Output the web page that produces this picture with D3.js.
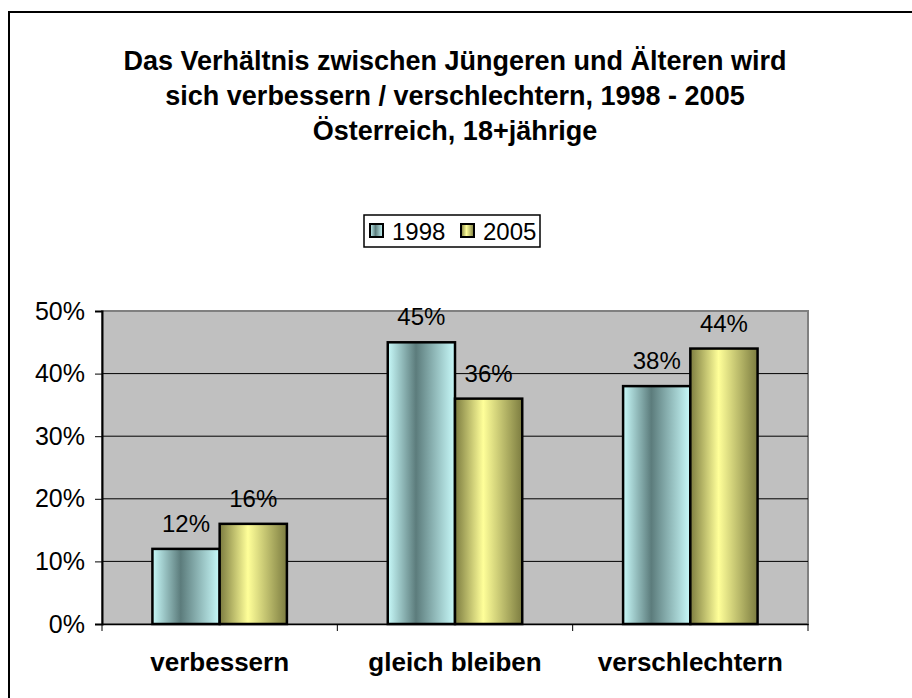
<!DOCTYPE html>
<head>
  <meta charset="utf-8">
  <title>D3 Barchart</title>
  <script src="https://d3js.org/d3.v7.min.js"></script>
  <style>
  body { margin: 0; background: #fff; }
  text { font-family: "Liberation Sans", Arial, sans-serif; fill: #000; }
  </style>
</head>
<body>
<script>
// data
var categories = ["verbessern", "gleich bleiben", "verschlechtern"];
var years = ["1998", "2005"];
var values1998 = [12, 45, 38];
var values2005 = [16, 36, 44];
var yTicks = [0, 10, 20, 30, 40, 50];
var titleLines = ["Das Verhältnis zwischen Jüngeren und Älteren wird",
                  "sich verbessern / verschlechtern, 1998 - 2005",
                  "Österreich, 18+jährige"];

var W = 912, H = 698;
var plot = {left: 102, top: 311, right: 808, bottom: 624};

var svg = d3.select("body").append("svg")
  .attr("width", W).attr("height", H);

// gradients
var defs = svg.append("defs");
var g1 = defs.append("linearGradient").attr("id", "g1998");
g1.append("stop").attr("offset", "0%").attr("stop-color", "#c8fafa");
g1.append("stop").attr("offset", "42%").attr("stop-color", "#5c7c7c");
g1.append("stop").attr("offset", "100%").attr("stop-color", "#c8fafa");
var g2 = defs.append("linearGradient").attr("id", "g2005");
g2.append("stop").attr("offset", "0%").attr("stop-color", "#7c7c40");
g2.append("stop").attr("offset", "42%").attr("stop-color", "#ffff99");
g2.append("stop").attr("offset", "100%").attr("stop-color", "#7c7c40");
var fills = {"1998": "url(#g1998)", "2005": "url(#g2005)"};

// outer frame
svg.append("rect")
  .attr("x", 9).attr("y", 12).attr("width", W).attr("height", H)
  .attr("fill", "none").attr("stroke", "#000").attr("stroke-width", 2);

// title
svg.append("text")
  .attr("text-anchor", "middle")
  .attr("font-size", 27).attr("font-weight", "bold")
  .selectAll("tspan").data(titleLines).enter().append("tspan")
  .attr("x", 455)
  .attr("y", function(d, i) { return 70 + i * 35; })
  .text(function(d) { return d; });

// scales
var x = d3.scaleBand().domain(categories).range([plot.left, plot.right]);
var xs = d3.scaleBand().domain(years).range([0, x.bandwidth()])
  .paddingOuter(0.75).paddingInner(0);
var y = d3.scaleLinear().domain([0, 50]).range([plot.bottom, plot.top]);

// plot background
svg.append("rect")
  .attr("x", plot.left).attr("y", plot.top)
  .attr("width", plot.right - plot.left).attr("height", plot.bottom - plot.top)
  .attr("fill", "#c0c0c0").attr("stroke", "#808080").attr("stroke-width", 2);

// gridlines
svg.selectAll(".grid").data(yTicks.slice(1, -1)).enter().append("line")
  .attr("x1", plot.left).attr("x2", plot.right)
  .attr("y1", function(d) { return y(d); }).attr("y2", function(d) { return y(d); })
  .attr("stroke", "#000").attr("stroke-width", 1);

// y axis
var yAxis = svg.append("g")
  .attr("transform", "translate(" + plot.left + ",0)")
  .call(d3.axisLeft(y).tickValues(yTicks).tickSize(7).tickPadding(10)
    .tickFormat(function(d) { return d + "%"; }));
yAxis.select(".domain").attr("stroke", "#000").attr("stroke-width", 2);
yAxis.selectAll("text").attr("font-size", 25);

// x axis
var xAxis = svg.append("g")
  .attr("transform", "translate(0," + plot.bottom + ")")
  .call(d3.axisBottom(x).tickSize(0).tickPadding(29));
xAxis.select(".domain").attr("stroke", "#000").attr("stroke-width", 1.5);
xAxis.selectAll("text").attr("font-size", 26).attr("font-weight", "bold");
svg.selectAll(".xtick").data(d3.range(categories.length + 1)).enter().append("line")
  .attr("x1", function(i) { return plot.left + i * x.step(); })
  .attr("x2", function(i) { return plot.left + i * x.step(); })
  .attr("y1", plot.bottom).attr("y2", plot.bottom + 7)
  .attr("stroke", "#000");

// bars
var rows = [];
categories.forEach(function(c, i) {
  rows.push({cat: c, year: "1998", v: values1998[i]});
  rows.push({cat: c, year: "2005", v: values2005[i]});
});

svg.selectAll(".bar").data(rows).enter().append("rect")
  .attr("x", function(d) { return x(d.cat) + xs(d.year); })
  .attr("y", function(d) { return y(d.v); })
  .attr("width", xs.bandwidth())
  .attr("height", function(d) { return plot.bottom - y(d.v); })
  .attr("fill", function(d) { return fills[d.year]; })
  .attr("stroke", "#000").attr("stroke-width", 2.5);

svg.selectAll(".lbl").data(rows).enter().append("text")
  .attr("x", function(d) { return x(d.cat) + xs(d.year) + xs.bandwidth() / 2; })
  .attr("y", function(d) { return y(d.v) - 17; })
  .attr("text-anchor", "middle").attr("font-size", 24)
  .text(function(d) { return d.v + "%"; });

// legend
var lg = svg.append("g").attr("transform", "translate(364,215)");
lg.append("rect").attr("width", 176).attr("height", 32)
  .attr("fill", "#fff").attr("stroke", "#000").attr("stroke-width", 1.5);
var items = lg.selectAll(".item").data(years).enter().append("g")
  .attr("transform", function(d, i) { return "translate(" + (6 + i * 91) + ",0)"; });
items.append("rect").attr("x", 0).attr("y", 9).attr("width", 13).attr("height", 13)
  .attr("fill", function(d) { return fills[d]; })
  .attr("stroke", "#000").attr("stroke-width", 2);
items.append("text").attr("x", 22).attr("y", 25).attr("font-size", 24)
  .text(function(d) { return d; });
</script>
</body>
</html>
